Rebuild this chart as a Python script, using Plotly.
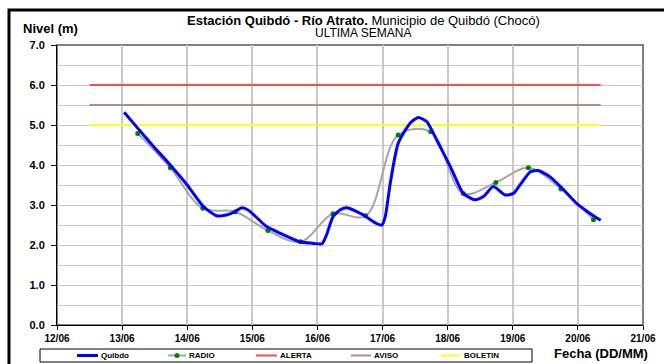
import plotly.graph_objects as go

# Hourly-level readings of the Quibdó telemetry station (m)
quibdo_time = [
    "2013-06-13 00:45", "2013-06-13 05:15", "2013-06-13 10:50", "2013-06-13 17:45",
    "2013-06-14 00:00", "2013-06-14 06:00", "2013-06-14 10:50", "2013-06-14 14:25",
    "2013-06-14 17:30", "2013-06-14 20:10", "2013-06-14 22:35", "2013-06-15 05:15",
    "2013-06-15 10:20", "2013-06-15 17:30", "2013-06-15 22:35", "2013-06-16 01:40",
    "2013-06-16 03:20", "2013-06-16 05:45", "2013-06-16 08:25", "2013-06-16 10:50",
    "2013-06-16 17:00", "2013-06-16 20:40", "2013-06-16 23:45", "2013-06-17 01:00",
    "2013-06-17 02:50", "2013-06-17 05:45", "2013-06-17 10:05", "2013-06-17 13:10",
    "2013-06-17 16:20", "2013-06-17 19:55", "2013-06-18 01:00", "2013-06-18 05:45",
    "2013-06-18 10:05", "2013-06-18 13:10", "2013-06-18 16:50", "2013-06-18 21:10",
    "2013-06-19 00:15", "2013-06-19 02:40", "2013-06-19 06:30", "2013-06-19 09:20",
    "2013-06-19 13:40", "2013-06-19 18:45", "2013-06-19 23:30", "2013-06-20 04:30",
    "2013-06-20 08:25",
]
quibdo_level = [
    5.32, 4.96, 4.52, 4.00,
    3.50, 2.96, 2.73, 2.75,
    2.83, 2.93, 2.87, 2.46,
    2.29, 2.08, 2.04, 2.03,
    2.25, 2.71, 2.88, 2.93,
    2.75, 2.58, 2.50, 2.71,
    3.54, 4.54, 5.04, 5.19,
    5.08, 4.63, 3.96, 3.29,
    3.13, 3.21, 3.46, 3.25,
    3.29, 3.50, 3.83, 3.86,
    3.71, 3.38, 3.04, 2.79,
    2.62,
]

# Twice-daily radio reports (m)
radio_time = [
    "2013-06-13 05:45", "2013-06-13 17:45", "2013-06-14 05:45", "2013-06-14 17:45",
    "2013-06-15 05:45", "2013-06-15 17:45", "2013-06-16 05:45", "2013-06-16 17:45",
    "2013-06-17 05:45", "2013-06-17 17:45", "2013-06-18 05:45", "2013-06-18 17:45",
    "2013-06-19 05:45", "2013-06-19 17:45", "2013-06-20 05:45",
]
radio_level = [4.79, 3.93, 2.92, 2.83, 2.36, 2.08, 2.78, 2.73,
               4.75, 4.83, 3.29, 3.56, 3.93, 3.40, 2.63]

# Warning thresholds (m)
threshold_span = ["2013-06-12 12:00", "2013-06-20 08:25"]
alerta_level = 6.0
aviso_level = 5.5
boletin_level = 5.0

x_range = ["2013-06-12", "2013-06-21"]
y_range = [0, 7]

FONT = "Arial, Liberation Sans, sans-serif"

# plot-area geometry in pixels, used to place the frame, titles and key
W, H = 664, 364
PL, PR, PT, PB = 57, 643, 45, 325


def px(x):
    return (x - PL) / (PR - PL)


def py(y):
    return (PB - y) / (PB - PT)


COLORS = {
    "Quibdo": "#0000FF",
    "RADIO": "#A6A6A6",
    "ALERTA": "#FF4B4B",
    "AVISO": "#B48A8A",
    "BOLETIN": "#FFFF22",
}

fig = go.Figure()

fig.add_trace(go.Scatter(
    x=threshold_span, y=[alerta_level] * 2, name="ALERTA", mode="lines",
    line=dict(color=COLORS["ALERTA"], width=2)))
fig.add_trace(go.Scatter(
    x=threshold_span, y=[aviso_level] * 2, name="AVISO", mode="lines",
    line=dict(color=COLORS["AVISO"], width=2)))
fig.add_trace(go.Scatter(
    x=threshold_span, y=[boletin_level] * 2, name="BOLETIN", mode="lines",
    line=dict(color=COLORS["BOLETIN"], width=2)))
fig.add_trace(go.Scatter(
    x=radio_time, y=radio_level, name="RADIO", mode="lines+markers",
    line=dict(color=COLORS["RADIO"], width=2, shape="spline", smoothing=1.0),
    marker=dict(color="#008000", size=5)))
fig.add_trace(go.Scatter(
    x=quibdo_time, y=quibdo_level, name="Quibdo", mode="lines",
    line=dict(color=COLORS["Quibdo"], width=3, shape="spline", smoothing=0.6)))

fig.update_xaxes(
    type="date", range=x_range, dtick=86400000, tickformat="%d/%m",
    showgrid=True, gridcolor="#C8C8C8", gridwidth=1.5,
    showline=True, linecolor="#000000", linewidth=1,
    ticks="outside", ticklen=4, tickcolor="#000000",
    tickfont=dict(family=FONT, size=10, color="#000000", weight="bold"),
    zeroline=False, fixedrange=True,
)
fig.update_yaxes(
    range=y_range, dtick=1, tickformat=".1f",
    showgrid=True, gridcolor="#C8C8C8", gridwidth=1,
    minor=dict(dtick=0.5, showgrid=True, gridcolor="#C8C8C8", gridwidth=1),
    showline=True, linecolor="#000000", linewidth=1,
    ticks="outside", ticklen=5, tickcolor="#000000",
    tickfont=dict(family=FONT, size=11, color="#000000", weight="bold"),
    ticklabelstandoff=4,
    zeroline=False, fixedrange=True,
)

shapes = [
    # plot-area frame (top/right in grey)
    dict(type="rect", xref="paper", yref="paper", x0=0, x1=1, y0=0, y1=1,
         line=dict(color="#808080", width=2), layer="between"),
    # outer chart frame
    dict(type="rect", xref="paper", yref="paper",
         x0=px(9), x1=px(700), y0=py(400), y1=py(10),
         line=dict(color="#000000", width=3), layer="above"),
    # key box
    dict(type="rect", xref="paper", yref="paper",
         x0=px(40), x1=px(532), y0=py(362), y1=py(349),
         line=dict(color="#000000", width=1), fillcolor="#FFFFFF", layer="above"),
]
annotations = [
    dict(text="<b>Estación Quibdó - Río Atrato.</b> Municipio de Quibdó (Chocó)",
         xref="paper", yref="paper", x=px(363), y=py(20.5),
         xanchor="center", yanchor="middle", showarrow=False,
         font=dict(family=FONT, size=13, color="#000000")),
    dict(text="ULTIMA SEMANA",
         xref="paper", yref="paper", x=px(363), y=py(33.5),
         xanchor="center", yanchor="middle", showarrow=False,
         font=dict(family=FONT, size=12, color="#000000")),
    dict(text="<b>Nivel (m)</b>",
         xref="paper", yref="paper", x=px(21), y=py(28),
         xanchor="left", yanchor="middle", showarrow=False,
         font=dict(family=FONT, size=13, color="#000000")),
    dict(text="<b>Fecha (DD/MM)</b>",
         xref="paper", yref="paper", x=px(650), y=py(353),
         xanchor="right", yanchor="middle", showarrow=False,
         font=dict(family=FONT, size=13, color="#000000")),
]

# key entries: (name, sample start px, sample end px, line width)
key_entries = [
    ("Quibdo", 77, 98, 3),
    ("RADIO", 168, 186, 2),
    ("ALERTA", 256, 277, 2),
    ("AVISO", 351, 371, 2),
    ("BOLETIN", 441, 461, 2),
]
key_y = py(355.5)
for name, x0, x1, w in key_entries:
    shapes.append(dict(type="line", xref="paper", yref="paper",
                       x0=px(x0), x1=px(x1), y0=key_y, y1=key_y,
                       line=dict(color=COLORS[name], width=w), layer="above"))
    if name == "RADIO":
        cx = (x0 + x1) / 2
        shapes.append(dict(type="circle", xref="paper", yref="paper",
                           x0=px(cx - 2.5), x1=px(cx + 2.5),
                           y0=py(355.5 + 2.5), y1=py(355.5 - 2.5),
                           line=dict(color="#008000", width=0),
                           fillcolor="#008000", layer="above"))
    annotations.append(dict(text=f"<b>{name}</b>", xref="paper", yref="paper",
                            x=px(x1 + 1), y=key_y, xanchor="left", yanchor="middle",
                            showarrow=False,
                            font=dict(family=FONT, size=8, color="#000000")))

fig.update_layout(
    width=W, height=H,
    margin=dict(l=PL, r=W - PR, t=PT, b=H - PB, autoexpand=False),
    paper_bgcolor="#FFFFFF", plot_bgcolor="#FFFFFF",
    font=dict(family=FONT, color="#000000"),
    showlegend=False,
    shapes=shapes,
    annotations=annotations,
)

fig.write_html("out.html")
